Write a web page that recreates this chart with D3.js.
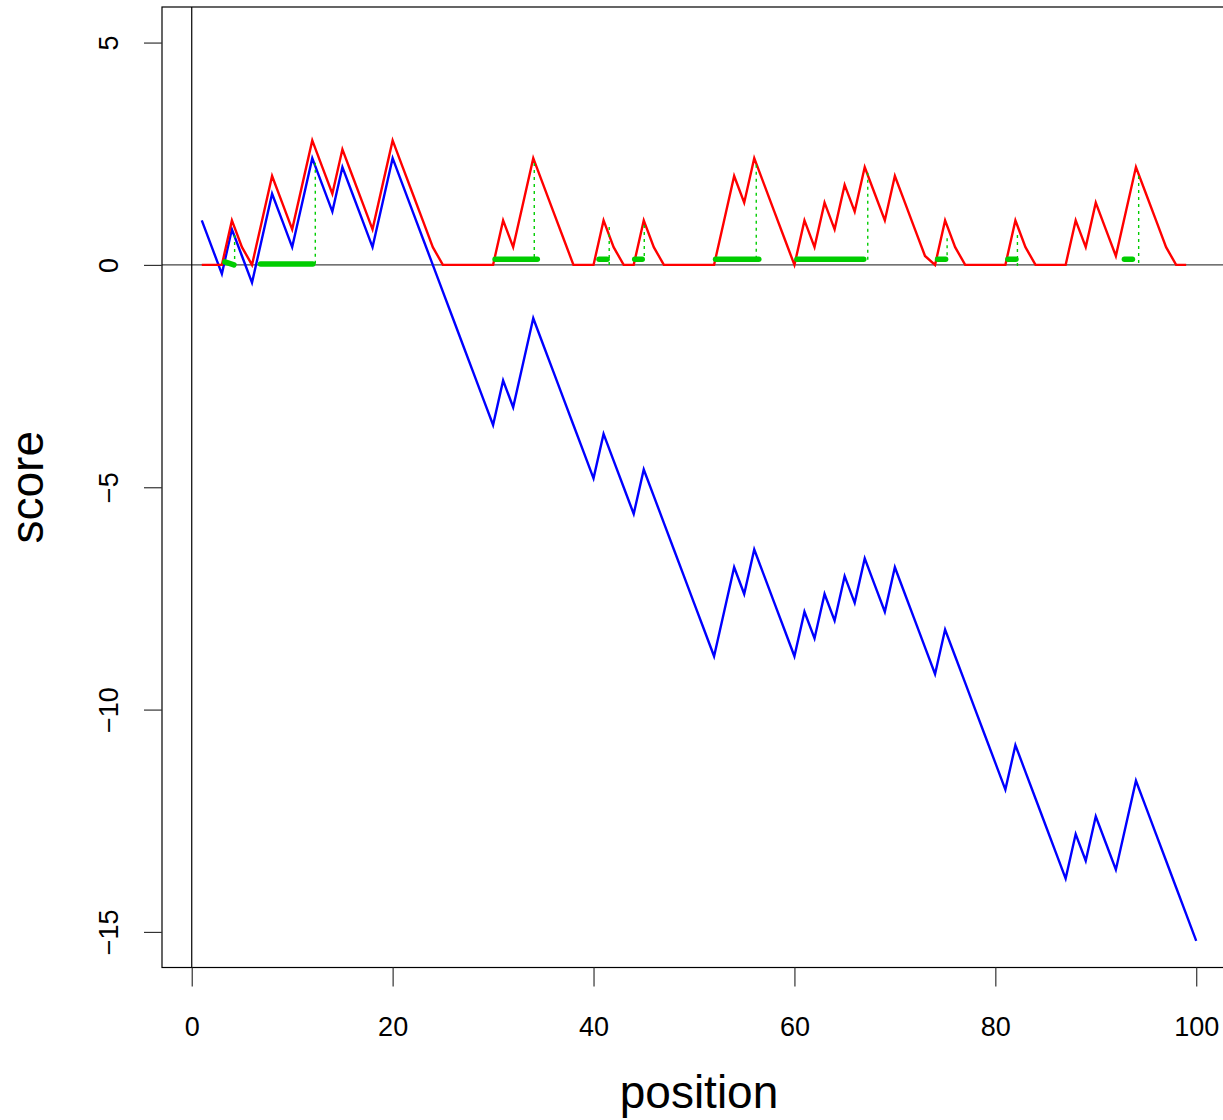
<!DOCTYPE html>
<html>
<head>
<meta charset="utf-8">
<script src="https://cdn.jsdelivr.net/npm/d3@7/dist/d3.min.js"></script>
<style>
    body { margin: 0; background: #fff; }
    svg text { font-family: "Liberation Sans", Arial, Helvetica, sans-serif; fill: #000; }
</style>
</head>
<body>
<script>
//cumulative score at positions 1..100 (blue line)
var cumScore = [1.0, 0.4, -0.2, 0.8, 0.2, -0.4, 0.6, 1.6, 1.0, 0.4,
    1.4, 2.4, 1.8, 1.2, 2.2, 1.6, 1.0, 0.4, 1.4, 2.4,
    1.8, 1.2, 0.6, 0.0, -0.6, -1.2, -1.8, -2.4, -3.0, -3.6,
    -2.6, -3.2, -2.2, -1.2, -1.8, -2.4, -3.0, -3.6, -4.2, -4.8,
    -3.8, -4.4, -5.0, -5.6, -4.6, -5.2, -5.8, -6.4, -7.0, -7.6,
    -8.2, -8.8, -7.8, -6.8, -7.4, -6.4, -7.0, -7.6, -8.2, -8.8,
    -7.8, -8.4, -7.4, -8.0, -7.0, -7.6, -6.6, -7.2, -7.8, -6.8,
    -7.4, -8.0, -8.6, -9.2, -8.2, -8.8, -9.4, -10.0, -10.6, -11.2,
    -11.8, -10.8, -11.4, -12.0, -12.6, -13.2, -13.8, -12.8, -13.4, -12.4,
    -13.0, -13.6, -12.6, -11.6, -12.2, -12.8, -13.4, -14.0, -14.6, -15.2];

//score that resets at zero, positions 1..99 (red line)
var resetScore = [0, 0, 0, 1.0, 0.4, 0, 1.0, 2.0, 1.4, 0.8,
    1.8, 2.8, 2.2, 1.6, 2.6, 2.0, 1.4, 0.8, 1.8, 2.8,
    2.2, 1.6, 1.0, 0.4, 0, 0, 0, 0, 0, 0,
    1.0, 0.4, 1.4, 2.4, 1.8, 1.2, 0.6, 0, 0, 0,
    1.0, 0.4, 0, 0, 1.0, 0.4, 0, 0, 0, 0,
    0, 0, 1.0, 2.0, 1.4, 2.4, 1.8, 1.2, 0.6, 0,
    1.0, 0.4, 1.4, 0.8, 1.8, 1.2, 2.2, 1.6, 1.0, 2.0,
    1.4, 0.8, 0.2, 0, 1.0, 0.4, 0, 0, 0, 0,
    0, 1.0, 0.4, 0, 0, 0, 0, 1.0, 0.4, 1.4,
    0.8, 0.2, 1.2, 2.2, 1.6, 1.0, 0.4, 0, 0];

//high scoring segments (thick green bars)
var segStart  = [3.3, 6.85, 30.2, 40.55, 44.1, 52.15, 60.25, 74.25, 81.25, 92.85];
var segEnd    = [4.2, 12.05, 34.4, 41.35, 44.85, 56.45, 66.9, 75.05, 82.05, 93.65];
var segYStart = [0.07, 0.02, 0.13, 0.13, 0.13, 0.13, 0.13, 0.13, 0.13, 0.13];
var segYEnd   = [0.0, 0.02, 0.13, 0.13, 0.13, 0.13, 0.13, 0.13, 0.13, 0.13];

//dotted green drop lines at segment peaks
var markX      = [4.27, 12.3, 34.1, 41.56, 45.05, 56.2, 67.3, 75.2, 82.2, 94.27];
var markTop    = [0.67, 2.3, 2.29, 0.85, 0.9, 2.25, 2.07, 0.6, 0.67, 2.0];
var markBottom = [0.0, 0.0, 0.13, -0.05, 0.13, 0.13, 0.1, 0.13, -0.1, 0.0];

var xTicks = [0, 20, 40, 60, 80, 100];
var yTicks = [-15, -10, -5, 0, 5];

(function(){

    var width = 1223,
        height = 1120;

    //plot region (R style, axis limits padded by 4%)
    var x = d3.scaleLinear()
        .domain([-2.96, 103.96])
        .range([162, 1236]);

    var y = d3.scaleLinear()
        .domain([-15.8, 5.8])
        .range([967.5, 7]);

    var svg = d3.select("body")
        .append("svg")
        .attr("width", width)
        .attr("height", height);

    //clip everything to the plot box
    svg.append("clipPath")
        .attr("id", "plotClip")
        .append("rect")
        .attr("x", x.range()[0])
        .attr("y", y.range()[1])
        .attr("width", x.range()[1] - x.range()[0])
        .attr("height", y.range()[0] - y.range()[1]);

    var plot = svg.append("g")
        .attr("clip-path", "url(#plotClip)");

    //reference lines at zero
    plot.append("line")
        .attr("x1", x.range()[0]).attr("x2", x.range()[1])
        .attr("y1", y(0)).attr("y2", y(0))
        .style("stroke", "#444")
        .style("stroke-width", 1.2);

    plot.append("line")
        .attr("x1", x(0)).attr("x2", x(0))
        .attr("y1", y.range()[0]).attr("y2", y.range()[1])
        .style("stroke", "#000")
        .style("stroke-width", 1.2);

    var line = d3.line()
        .x(function(d, i) { return x(i + 1); })
        .y(function(d) { return y(d); });

    //blue cumulative score
    plot.append("path")
        .datum(cumScore)
        .attr("d", line)
        .style("fill", "none")
        .style("stroke", "#0000ff")
        .style("stroke-width", 2.4)
        .style("stroke-linejoin", "miter");

    //red reset score
    plot.append("path")
        .datum(resetScore)
        .attr("d", line)
        .style("fill", "none")
        .style("stroke", "#ff0000")
        .style("stroke-width", 2.4)
        .style("stroke-linejoin", "miter");

    //dotted drop lines
    plot.selectAll(".mark")
        .data(markX)
        .enter()
        .append("line")
        .attr("class", "mark")
        .attr("x1", function(d) { return x(d); })
        .attr("x2", function(d) { return x(d); })
        .attr("y1", function(d, i) { return y(markTop[i]); })
        .attr("y2", function(d, i) { return y(markBottom[i]); })
        .style("stroke", "#00cd00")
        .style("stroke-width", 1.4)
        .style("stroke-dasharray", "3,4");

    //thick segment bars
    plot.selectAll(".seg")
        .data(segStart)
        .enter()
        .append("line")
        .attr("class", "seg")
        .attr("x1", function(d) { return x(d); })
        .attr("x2", function(d, i) { return x(segEnd[i]); })
        .attr("y1", function(d, i) { return y(segYStart[i]); })
        .attr("y2", function(d, i) { return y(segYEnd[i]); })
        .style("stroke", "#00cd00")
        .style("stroke-width", 5.5)
        .style("stroke-linecap", "round");

    //plot box
    svg.append("rect")
        .attr("x", x.range()[0])
        .attr("y", y.range()[1])
        .attr("width", x.range()[1] - x.range()[0])
        .attr("height", y.range()[0] - y.range()[1])
        .style("fill", "none")
        .style("stroke", "#000")
        .style("stroke-width", 1.2);

    //x axis
    var xAxis = svg.append("g")
        .attr("class", "xaxis")
        .attr("transform", "translate(0," + y.range()[0] + ")")
        .call(d3.axisBottom(x).tickValues(xTicks).tickSize(19).tickPadding(30).tickSizeOuter(0));

    xAxis.select(".domain").remove();
    xAxis.selectAll(".tick line").style("stroke", "#333").style("stroke-width", 1.2);
    xAxis.selectAll(".tick text")
        .style("font-size", "27px")
        .attr("dy", "0.72em");

    //y axis, labels parallel to the axis
    var yAxis = svg.append("g")
        .attr("class", "yaxis")
        .attr("transform", "translate(" + x.range()[0] + ",0)")
        .call(d3.axisLeft(y).tickValues(yTicks).tickSize(18).tickSizeOuter(0)
            .tickFormat(function(d) { return d < 0 ? "\u2212" + Math.abs(d) : d; }));

    yAxis.select(".domain").remove();
    yAxis.selectAll(".tick line").style("stroke", "#333").style("stroke-width", 1.2);
    yAxis.selectAll(".tick text")
        .attr("x", null)
        .attr("dy", null)
        .attr("transform", "translate(-44.5,0) rotate(-90)")
        .style("text-anchor", "middle")
        .style("font-size", "27px");

    //axis titles
    svg.append("text")
        .attr("x", (x.range()[0] + x.range()[1]) / 2)
        .attr("y", 1108)
        .style("text-anchor", "middle")
        .style("font-size", "46px")
        .text("position");

    svg.append("text")
        .attr("transform", "translate(43," + (y.range()[0] + y.range()[1]) / 2 + ") rotate(-90)")
        .style("text-anchor", "middle")
        .style("font-size", "46px")
        .text("score");
})();
</script>
</body>
</html>
